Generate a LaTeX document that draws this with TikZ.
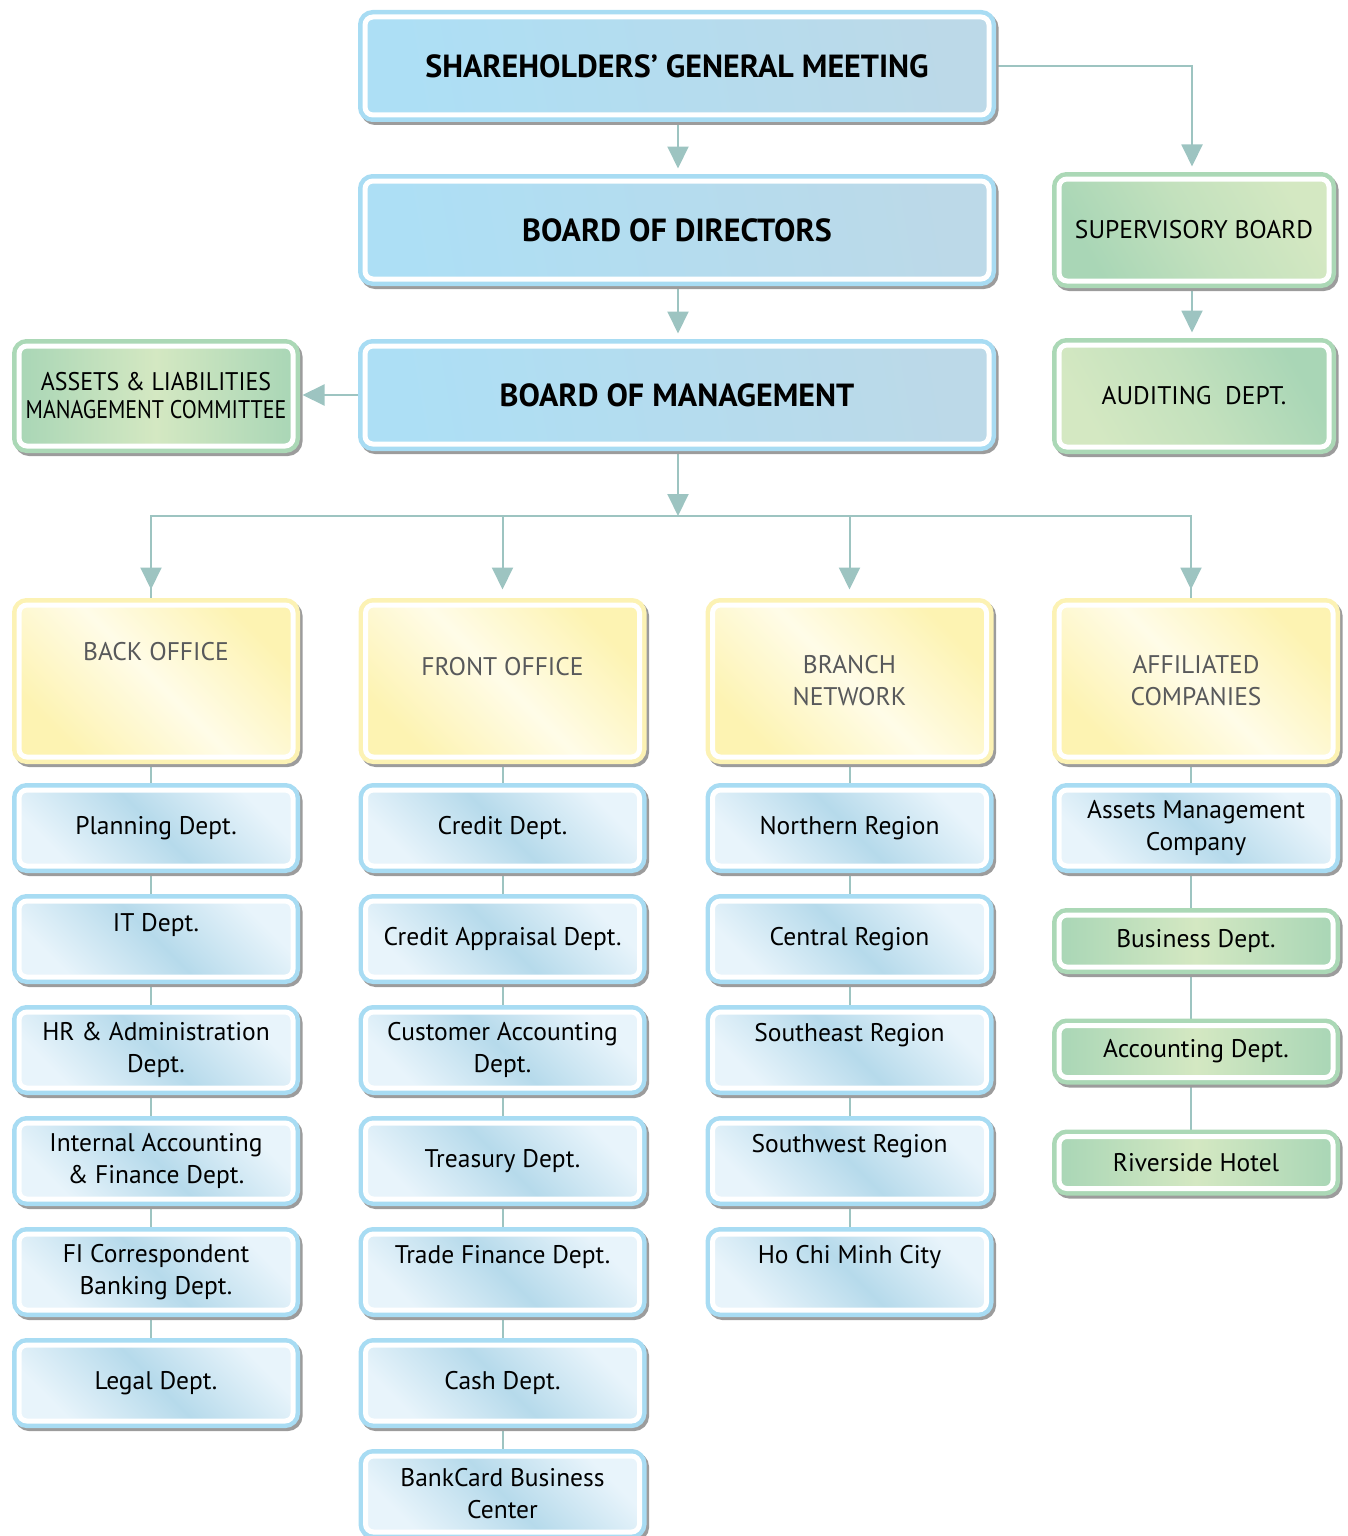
\documentclass[tikz,border=0pt]{standalone}
\usepackage{fontspec}
\setmainfont{PT Sans}
\usetikzlibrary{arrows.meta,backgrounds}
\definecolor{ringblue}{HTML}{A8DCF3}
\definecolor{topA}{HTML}{ADDFF5}
\definecolor{topB}{HTML}{BCD9E8}
\definecolor{dlight}{HTML}{E8F4FB}
\definecolor{dmid}{HTML}{B6DAEB}
\definecolor{ringgreen}{HTML}{ABD8B6}
\definecolor{gA}{HTML}{A9D6B6}
\definecolor{gB}{HTML}{D4E8C2}
\definecolor{ringyellow}{HTML}{FCF2B4}
\definecolor{yA}{HTML}{FDF3B2}
\definecolor{yB}{HTML}{FFFCE8}
\definecolor{shadowc}{HTML}{9C9C9C}
\definecolor{linec}{HTML}{9DC4C1}
\definecolor{ytext}{HTML}{58595B}
\begin{document}
\begin{tikzpicture}[x=1pt,y=-1pt,
  shadowed/.style={preaction={draw=shadowc,fill=shadowc,line width=14pt,transform canvas={shift={(2.5pt,-3pt)}}}},
  ring/.style={preaction={draw=#1,line width=14pt}},
  box/.style={rounded corners=8pt,draw=white,line width=5pt,align=center,inner sep=2pt,
    font=\fontsize{25.5}{32}\selectfont},
  bigblue/.style={box,shadowed,ring=ringblue,left color=topA,right color=topB,middle color=topA!50!topB,shading angle=100,
    minimum width=624pt,minimum height=98pt,font=\fontsize{32}{36}\selectfont\bfseries},
  deptbox/.style={box,shadowed,ring=ringblue,left color=dlight,right color=dlight,middle color=dmid,shading angle=135,
    minimum width=274pt,minimum height=76pt},
  greenbig/.style={box,shadowed,ring=ringgreen,left color=gA,right color=gB,middle color=gA!40!gB,shading angle=120},
  greensmall/.style={box,shadowed,ring=ringgreen,left color=gA,right color=gA,middle color=gB,shading angle=90,
    minimum width=274pt,minimum height=52pt},
  yellowbox/.style={box,shadowed,ring=ringyellow,left color=yA,right color=yA,middle color=yB,shading angle=135,
    minimum width=274pt,minimum height=152pt,text=ytext},
  lift/.style={text depth=#1},
  conn/.style={draw=linec,line width=2pt},
  arr/.style={conn,-{Triangle[width=21pt,length=22pt]},shorten >=10pt}
]
\useasboundingbox (0,0) rectangle (1348,1536);

% top
\node[bigblue] (SGM) at (677,66) {SHAREHOLDERS’ GENERAL MEETING};
\node[bigblue] (BOD) at (677,230) {BOARD OF DIRECTORS};
\node[bigblue] (BOM) at (677,395) {BOARD OF MANAGEMENT};
\node[greenbig,minimum width=274pt,minimum height=100pt,left color=gA,right color=gA,middle color=gB,shading angle=90] (ALCO) at (156,396) {{\addfontfeatures{FakeStretch=0.94}ASSETS \& LIABILITIES}\\[-4pt]{\addfontfeatures{FakeStretch=0.86}MANAGEMENT COMMITTEE}};
\node[greenbig,minimum width=270pt,minimum height=102pt] (SUP) at (1194,230) {SUPERVISORY BOARD};
\node[greenbig,minimum width=270pt,minimum height=102pt,shading angle=300] (AUD) at (1194,396) {AUDITING\ \ DEPT.};

% column headers
\node[yellowbox,lift=60pt] (BO) at (156,681) {BACK OFFICE};
\node[yellowbox,lift=30pt] (FO) at (502.5,681) {FRONT OFFICE};
\node[yellowbox] (BN) at (849.5,681) {BRANCH\\NETWORK};
\node[yellowbox] (AF) at (1196,681) {AFFILIATED\\COMPANIES};

% column 1
\node[deptbox] (PL) at (156,828) {Planning Dept.};
\node[deptbox,lift=33pt] (IT) at (156,939) {IT Dept.};
\node[deptbox] (HR) at (156,1050) {HR \& Administration\\Dept.};
\node[deptbox] (IAF) at (156,1161) {Internal Accounting\\\& Finance Dept.};
\node[deptbox] (FI) at (156,1272) {FI Correspondent\\Banking Dept.};
\node[deptbox] (LE) at (156,1383) {Legal Dept.};

% column 2
\node[deptbox] (CR) at (502.5,828) {Credit Dept.};
\node[deptbox] (CA) at (502.5,939) {Credit Appraisal Dept.};
\node[deptbox] (CU) at (502.5,1050) {Customer Accounting\\Dept.};
\node[deptbox] (TR) at (502.5,1161) {Treasury Dept.};
\node[deptbox,lift=36pt] (TF) at (502.5,1272) {Trade Finance Dept.};
\node[deptbox] (CS) at (502.5,1383) {Cash Dept.};
\node[deptbox] (BC) at (502.5,1494) {BankCard Business\\Center};

% column 3
\node[deptbox] (NR) at (849.5,828) {Northern Region};
\node[deptbox] (CE) at (849.5,939) {Central Region};
\node[deptbox,lift=36pt] (SE) at (849.5,1050) {Southeast Region};
\node[deptbox,lift=36pt] (SW) at (849.5,1161) {Southwest Region};
\node[deptbox,lift=36pt] (HC) at (849.5,1272) {Ho Chi Minh City};

% column 4
\node[deptbox] (AM) at (1196,828) {Assets Management\\Company};
\node[greensmall] (BU) at (1196,941) {Business Dept.};
\node[greensmall] (AC) at (1196,1051.5) {Accounting Dept.};
\node[greensmall] (RH) at (1196,1162.5) {Riverside Hotel};

\coordinate (fan) at (678,516);

\begin{pgfonlayer}{background}
  \draw[arr] ([xshift=1pt]SGM.south) -- ([xshift=1pt]BOD.north);
  \draw[arr] ([xshift=1pt]BOD.south) -- ([xshift=1pt]BOM.north);
  \draw[arr] (SGM.east) -| ([xshift=-2pt]SUP.north);
  \draw[arr] ([xshift=-2pt]SUP.south) -- ([xshift=-2pt]AUD.north);
  \draw[arr,shorten >=7pt] (BOM.west) -- (BOM.west -| ALCO.east);
  \draw[arr,shorten >=0pt] (BOM.south -| fan) -- (fan);
  \draw[conn] (fan) -| ([xshift=-5pt]BO.north);
  \draw[conn] (fan) -| ([xshift=-5pt]AF.north);
  \draw[arr,shorten >=13pt] ([xshift=-5pt]BO.north |- fan) -- ([xshift=-5pt]BO.north);
  \draw[arr,shorten >=13pt] (FO.north |- fan) -- (FO.north);
  \draw[arr,shorten >=13pt] (BN.north |- fan) -- (BN.north);
  \draw[arr,shorten >=13pt] ([xshift=-5pt]AF.north |- fan) -- ([xshift=-5pt]AF.north);
  \draw[conn] ([xshift=-5pt]BO.center) -- ([xshift=-5pt]LE.center);
  \draw[conn] (FO.center) -- (BC.center);
  \draw[conn] (BN.center) -- (HC.center);
  \draw[conn] ([xshift=-5pt]AF.center) -- ([xshift=-5pt]RH.center);
\end{pgfonlayer}
\end{tikzpicture}
\end{document}
